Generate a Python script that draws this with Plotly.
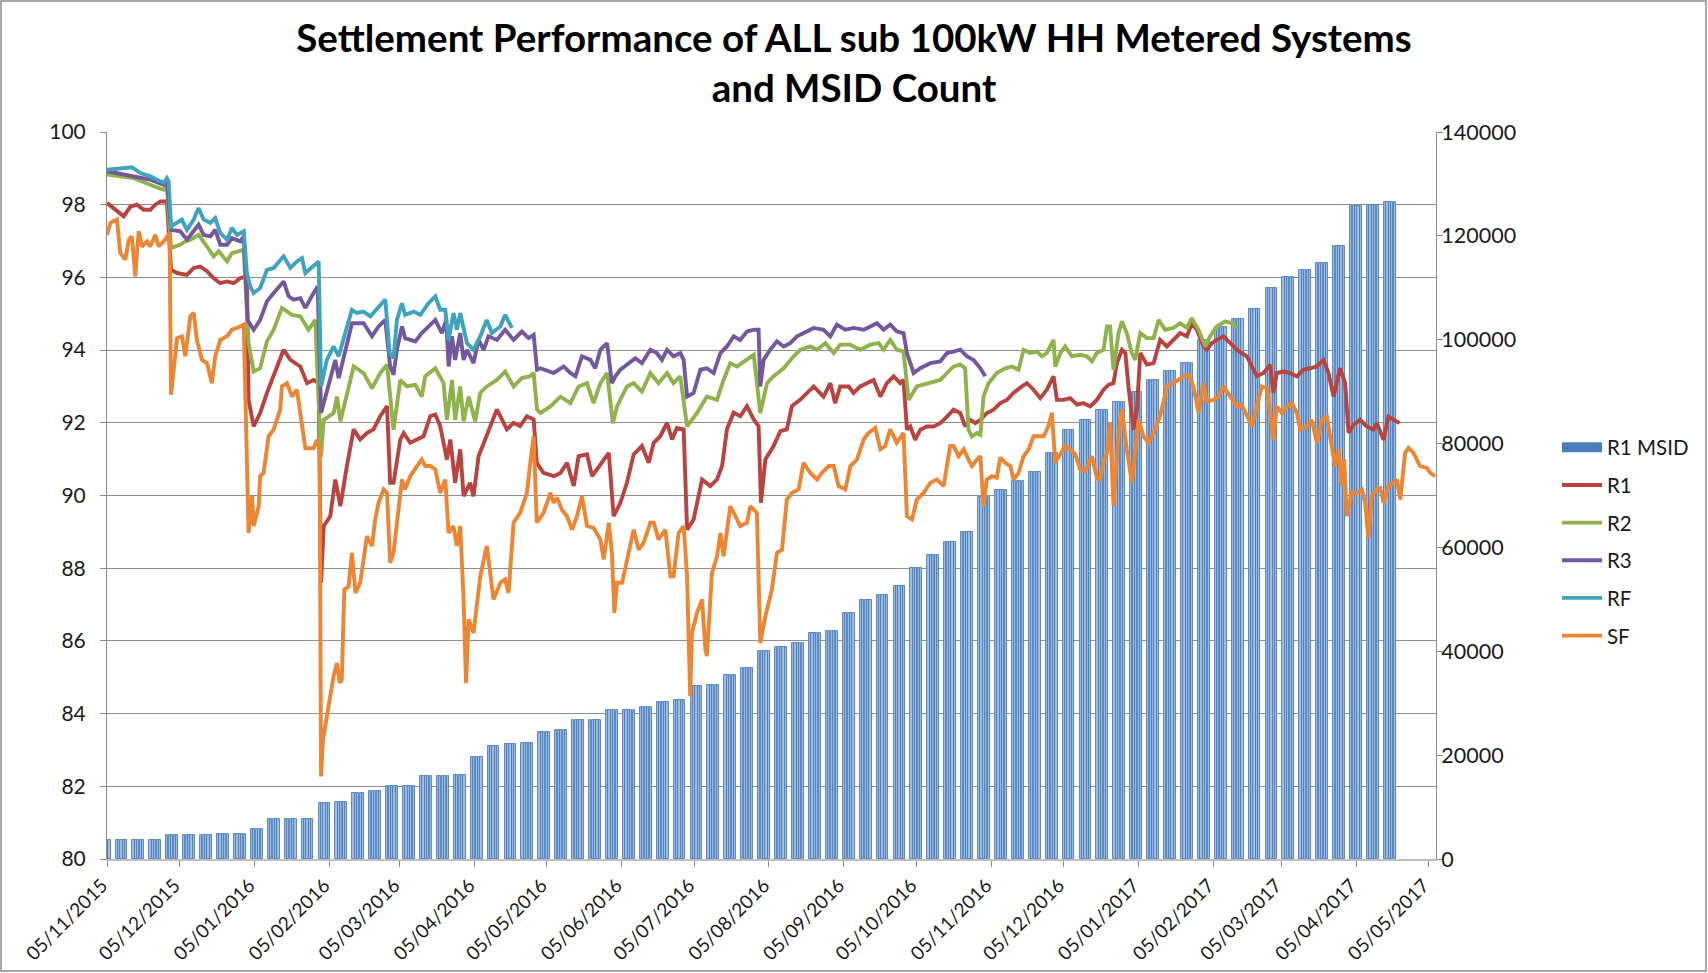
import pandas as pd
import plotly.graph_objects as go

# ---------------- data ----------------
START_DATE = "2015-11-05"          # day 0 of the series below (days since this date)
TITLE = "Settlement Performance of ALL sub 100kW HH Metered Systems<br>and MSID Count"

x_tick_dates = ["2015-11-05", "2015-12-05", "2016-01-05", "2016-02-05", "2016-03-05", "2016-04-05",
                "2016-05-05", "2016-06-05", "2016-07-05", "2016-08-05", "2016-09-05", "2016-10-05",
                "2016-11-05", "2016-12-05", "2017-01-05", "2017-02-05", "2017-03-05", "2017-04-05",
                "2017-05-05"]
x_tick_labels = ["05/11/2015", "05/12/2015", "05/01/2016", "05/02/2016", "05/03/2016", "05/04/2016",
                 "05/05/2016", "05/06/2016", "05/07/2016", "05/08/2016", "05/09/2016", "05/10/2016",
                 "05/11/2016", "05/12/2016", "05/01/2017", "05/02/2017", "05/03/2017", "05/04/2017",
                 "05/05/2017"]
left_ticks = [80, 82, 84, 86, 88, 90, 92, 94, 96, 98, 100]
right_ticks = [0, 20000, 40000, 60000, 80000, 100000, 120000, 140000]

# R1 MSID count: one value per week (weeks starting Monday 2015-11-02), shown on every working day
msid_week_start = "2015-11-02"
msid_first_day = "2015-11-05"
msid_last_day = "2017-04-21"
msid_weekly = [3700, 3700, 3700, 3700, 4600, 4600, 4600, 4800, 4800, 5800,
               7800, 7800, 7800, 10850, 10900, 12650, 13000, 14000, 14100, 16000,
               16000, 16100, 19600, 21700, 22200, 22300, 24500, 24800, 26800, 26800,
               28700, 28700, 29200, 30300, 30650, 33400, 33500, 35500, 36700, 40000,
               40800, 41600, 43500, 44000, 47400, 49800, 50800, 52500, 56000, 58500,
               61000, 63000, 69800, 71000, 72700, 74500, 78200, 82600, 84500, 86500,
               88000, 90000, 92300, 93900, 95500, 100000, 102500, 104000, 106000, 110000,
               112100, 113500, 114700, 118000, 125800, 126000, 126500]

# (days since START_DATE, percent)
r1_points = [(0,98.05),(2.8,97.91),(6.9,97.68),(9.7,97.95),(12.4,98.00),(15.2,97.86),(17.9,97.86),(20.0,98.00),
 (22.1,98.09),(24.8,98.09),(26.5,96.21),(29.0,96.12),(33.1,96.07),(35.9,96.26),(38.6,96.30),(41.4,96.17),
 (44.1,95.98),(46.9,95.84),(49.7,95.89),(52.4,95.84),(55.2,95.98),(57.9,96.03),(58.6,92.63),(60.7,91.90),
 (63.4,92.27),(66.2,92.82),(69.0,93.28),(73.1,94.01),(75.9,93.73),(80.0,93.55),(82.8,93.09),(85.5,93.18),
 (87.6,93.09),(88.6,87.60),(89.7,89.16),(92.4,89.43),(94.5,90.44),(96.6,89.71),(99.3,90.81),(102.1,91.82),
 (104.8,91.54),(107.6,91.72),(110.3,91.82),(113.1,92.18),(115.9,92.46),(117.2,90.35),(118.6,90.35),(121.4,91.54),
 (122.8,91.72),(125.5,91.45),(128.3,91.54),(131.0,91.63),(133.8,92.18),(135.9,92.23),(137.9,91.91),(140.7,90.99),
 (142.1,91.54),(144.1,90.35),(146.2,91.27),(147.6,89.98),(150.3,90.35),(151.7,89.98),(153.8,91.08),(157.2,91.63),
 (161.4,92.37),(165.5,91.82),(168.3,92.00),(171.0,91.91),(173.8,92.18),(176.6,92.09),(177.9,90.90),(180.7,90.62),
 (184.9,90.53),(187.7,90.62),(190.4,90.90),(193.2,90.26),(195.2,91.08),(198.7,91.13),(200.8,90.53),(204.2,90.85),
 (207.7,91.17),(209.7,89.43),(212.5,89.80),(215.2,90.35),(218.0,91.13),(221.4,91.36),(224.2,90.90),(226.3,91.45),
 (229.0,91.63),(231.8,92.00),(233.9,91.54),(235.9,91.86),(238.7,91.82),(240.1,89.06),(242.8,89.34),(246.3,90.44),
 (249.7,90.26),(252.5,90.44),(254.6,90.81),(256.6,91.82),(259.4,92.28),(262.1,92.18),(264.9,92.46),(267.7,92.09),
 (269.7,91.91),(270.7,89.80),(272.5,90.99),(275.9,91.36),(278.7,91.77),(281.4,91.82),(283.5,92.46),(287.0,92.64),
 (289.7,92.82),(292.5,93.00),(296.6,92.72),(299.4,93.09),(301.4,92.54),(303.5,93.00),(307.0,93.00),(309.0,92.82),
 (311.8,93.00),(314.5,93.09),(317.3,93.18),(320.1,92.72),(322.8,93.09),(325.6,93.28),(328.3,93.09),(329.7,93.18),
 (331.1,91.81),(332.5,91.90),(334.5,91.53),(336.6,91.81),(339.4,91.90),(342.1,91.90),(344.9,91.99),(347.7,92.17),
 (350.4,92.36),(353.2,92.27),(355.2,91.90),(357.3,92.08),(359.4,91.99),(361.5,92.08),(364.2,92.27),(367.0,92.36),
 (369.7,92.54),(372.5,92.63),(375.2,92.82),(378.7,93.00),(380.8,93.09),(383.5,92.91),(386.3,92.68),(389.0,92.91),
 (391.8,93.28),(393.2,92.63),(395.9,92.63),(398.7,92.68),(401.5,92.50),(404.2,92.54),(407.0,92.45),(409.7,92.63),
 (412.5,92.91),(414.6,93.05),(416.6,93.09),(418.0,93.64),(420.1,94.01),(421.5,93.92),(422.8,93.00),(424.9,91.81),
 (426.3,92.36),(427.7,93.92),(430.4,93.60),(433.2,93.64),(435.9,94.28),(438.7,94.10),(441.5,94.28),(444.2,94.47),
 (447.0,94.38),(449.0,94.74),(451.1,94.56),(453.9,94.10),(455.2,94.01),(457.3,94.19),(459.4,94.28),(462.1,94.38),
 (464.9,94.19),(467.7,94.01),(469.7,93.92),(471.8,93.83),(473.9,93.55),(475.9,93.28),(478.7,93.37),(481.5,93.60),
 (482.8,92.82),(484.2,93.37),(487.0,93.41),(489.7,93.37),(492.5,93.28),(495.2,93.46),(498.0,93.50),(500.8,93.55),
 (503.5,93.73),(505.6,93.37),(507.7,92.72),(510.4,93.50),(512.5,93.09),(513.9,91.72),(515.9,91.94),(518.7,92.08),
 (521.4,91.90),(524.2,91.81),(525.6,91.99),(528.4,91.53),(530.4,92.17),(532.5,92.08),(535.0,91.99)]

r2_points = [(0,98.83),(11.0,98.73),(17.9,98.55),(23.4,98.41),(24.8,98.50),(26.5,96.81),(30.3,96.90),(32.4,96.99),
 (34.5,97.04),(37.9,97.17),(41.4,96.85),(44.1,96.58),(46.2,96.72),(49.7,96.44),(51.7,96.67),(55.2,96.72),
 (56.6,96.76),(58.6,94.19),(60.7,93.41),(63.4,93.50),(66.2,94.24),(69.0,94.56),(72.4,95.16),(76.6,94.97),
 (80.0,94.93),(83.4,94.56),(86.2,94.83),(88.6,91.07),(89.7,92.08),(93.8,92.27),(95.2,92.72),(96.6,92.04),
 (100.0,93.00),(102.1,93.55),(106.2,93.37),(109.7,92.95),(113.1,93.37),(115.9,93.60),(117.5,92.54),(118.6,91.81),
 (121.4,93.18),(124.1,93.00),(127.6,93.05),(130.3,92.72),(131.7,93.28),(135.9,93.50),(139.3,93.09),(140.7,92.08),
 (142.8,93.18),(144.1,92.08),(146.2,93.00),(147.6,92.04),(149.7,92.72),(152.4,92.04),(154.5,92.82),(157.2,93.00),
 (161.4,93.18),(164.8,93.41),(168.3,93.00),(171.7,93.23),(175.2,93.28),(176.6,93.37),(178.0,92.36),(179.4,92.27),
 (183.5,92.45),(187.7,92.72),(191.8,92.54),(195.2,93.00),(198.7,93.09),(201.4,92.54),(204.2,93.09),(207.0,93.37),
 (209.4,91.99),(211.1,92.45),(215.2,93.00),(218.0,93.09),(221.4,92.86),(224.9,93.37),(228.3,93.09),(231.8,93.37),
 (234.5,93.09),(237.3,93.28),(240.1,91.90),(244.2,92.27),(248.3,92.72),(252.5,92.63),(255.2,93.18),(258.0,93.64),
 (260.8,93.55),(264.9,93.73),(267.7,93.87),(270.4,92.27),(273.2,93.09),(275.9,93.28),(280.1,93.50),(284.2,93.83),
 (287.0,94.01),(291.1,94.10),(293.9,94.01),(297.3,94.19),(300.8,93.92),(303.5,94.15),(307.7,94.15),(311.8,94.01),
 (315.9,94.15),(319.4,94.19),(321.4,94.01),(324.2,94.28),(327.0,94.01),(329.7,93.96),(331.8,92.63),(335.2,93.00),
 (339.4,93.09),(344.9,93.18),(347.7,93.37),(350.4,93.55),(353.2,93.60),(355.2,93.50),(356.6,91.81),(358.0,91.62),
 (360.1,91.72),(361.5,91.67),(362.8,92.72),(364.9,93.09),(368.3,93.37),(371.8,93.50),(374.6,93.55),(377.3,93.46),
 (379.4,94.01),(382.1,93.92),(384.9,93.96),(387.0,93.83),(389.0,93.92),(391.8,94.28),(392.5,93.55),(394.6,93.92),
 (396.6,94.10),(399.4,93.83),(402.8,93.87),(405.6,93.83),(407.7,93.69),(409.7,93.92),(412.5,94.01),(413.9,94.65),
 (415.2,94.65),(416.6,93.46),(418.7,94.47),(420.1,94.79),(422.1,94.47),(424.2,93.92),(425.6,93.73),(427.7,94.47),
 (430.4,94.33),(433.2,94.33),(435.3,94.83),(438.0,94.56),(441.5,94.61),(444.2,94.74),(447.0,94.61),(449.0,94.88),
 (451.8,94.56),(454.6,94.10),(456.6,94.38),(459.4,94.65),(462.8,94.79),(465.6,94.74),(467.7,94.61)]

r3_points = [(0,98.92),(11.0,98.78),(17.9,98.69),(23.4,98.55),(24.8,98.64),(26.5,97.31),(30.3,97.27),(33.1,97.04),
 (37.9,97.45),(40.0,97.17),(42.8,97.13),(44.8,97.31),(46.9,96.90),(49.7,96.90),(51.7,97.08),(55.2,96.99),
 (56.6,97.13),(58.2,94.83),(60.7,94.56),(63.4,94.83),(66.2,95.34),(69.0,95.57),(73.1,95.89),(75.2,95.48),
 (77.2,95.39),(80.0,95.43),(82.1,95.16),(85.5,95.57),(87.2,95.75),(88.6,92.27),(92.4,93.18),(94.5,93.73),
 (95.9,93.23),(98.6,93.92),(101.4,94.74),(106.2,94.74),(109.7,94.38),(112.4,94.65),(115.2,94.83),(117.2,93.55),
 (118.6,93.32),(120.0,94.01),(122.1,94.65),(123.4,94.33),(127.6,94.24),(130.3,94.47),(133.1,94.65),(135.9,94.83),
 (138.6,94.47),(140.4,94.83),(141.4,93.55),(142.8,94.38),(144.1,93.73),(146.2,94.47),(147.6,93.73),(149.0,94.01),
 (151.7,93.64),(153.8,94.28),(155.9,94.01),(157.9,94.38),(161.4,94.28),(164.8,94.56),(168.3,94.28),(171.7,94.51),
 (174.5,94.33),(176.6,94.42),(178.0,93.46),(179.4,93.50),(184.9,93.37),(189.0,93.55),(191.8,93.37),(193.9,93.28),
 (196.6,93.83),(200.1,93.73),(202.1,93.50),(204.2,94.01),(207.0,94.19),(209.0,93.09),(210.4,93.28),(212.5,93.46),
 (218.7,93.78),(221.4,93.64),(224.9,94.01),(227.6,93.92),(229.7,93.73),(231.8,94.01),(234.5,93.83),(237.3,93.92),
 (238.7,93.73),(240.1,92.72),(242.8,92.82),(245.6,93.46),(248.3,93.50),(251.1,93.37),(253.9,93.92),(256.6,94.10),
 (259.4,94.38),(262.1,94.28),(264.9,94.51),(267.7,94.56),(269.7,94.56),(270.4,93.00),(271.8,93.73),(274.5,94.01),
 (277.3,94.24),(280.1,94.10),(282.8,94.19),(285.6,94.38),(289.7,94.51),(292.5,94.61),(296.6,94.56),(299.4,94.38),
 (302.1,94.70),(305.6,94.56),(309.0,94.61),(313.2,94.56),(316.0,94.65),(318.7,94.74),(321.4,94.56),(324.2,94.70),
 (327.0,94.51),(329.7,94.47),(331.1,93.92),(333.9,93.37),(336.6,93.50),(340.8,93.64),(344.9,93.69),(347.7,93.92),
 (350.4,93.96),(353.2,94.01),(355.9,93.83),(358.7,93.73),(361.5,93.50),(363.5,93.28)]

rf_points = [(0,98.96),(5.5,99.01),(10.3,99.03),(13.8,98.87),(17.9,98.78),(23.4,98.60),(24.8,98.73),(25.5,98.64),
 (26.5,97.40),(31.0,97.59),(33.1,97.31),(35.9,97.59),(37.9,97.91),(40.0,97.59),(42.8,97.50),(44.8,97.63),
 (46.9,97.22),(49.7,97.04),(51.7,97.36),(53.8,97.17),(56.6,97.27),(57.9,96.12),(59.3,95.75),(60.7,95.57),
 (63.4,95.71),(66.2,96.21),(69.0,96.26),(73.1,96.58),(75.9,96.26),(78.6,96.44),(80.7,96.53),(82.1,96.12),
 (85.5,96.30),(87.6,96.44),(88.6,93.00),(91.0,93.73),(93.8,94.10),(95.9,93.83),(98.6,94.47),(101.4,95.11),
 (103.4,95.02),(106.2,95.06),(109.0,94.93),(112.4,95.20),(115.2,95.39),(117.0,93.92),(118.6,93.78),(120.0,94.83),
 (122.1,95.29),(123.4,94.97),(126.9,95.06),(129.7,94.97),(133.1,95.29),(135.9,95.48),(137.9,95.11),(140.0,95.11),
 (141.4,94.28),(143.4,95.02),(144.8,94.56),(146.2,95.02),(149.0,94.19),(151.7,94.01),(154.5,94.38),(157.2,94.83),
 (159.3,94.47),(162.8,94.65),(164.8,94.97),(167.6,94.61)]

sf_points = [(0,97.17),(1.4,97.50),(4.1,97.59),(5.5,96.67),(7.6,96.49),(9.0,97.04),(10.3,97.13),(11.7,96.03),
 (13.1,97.27),(14.5,96.85),(16.6,96.99),(17.9,96.85),(20.0,97.17),(21.4,96.85),(24.1,97.04),(25.9,97.22),
 (26.5,92.77),(27.6,93.37),(29.0,94.33),(31.0,94.38),(32.4,93.83),(34.5,94.93),(35.9,95.02),(37.2,94.28),
 (39.3,93.73),(41.4,93.64),(43.4,93.09),(44.8,93.83),(46.9,94.28),(49.7,94.38),(51.7,94.56),(53.8,94.61),
 (56.6,94.70),(58.6,88.97),(60.0,89.98),(60.7,89.16),(62.8,89.71),(63.4,90.53),(64.8,90.62),(66.9,91.63),
 (69.0,91.82),(71.7,92.37),(72.4,93.00),(74.5,93.09),(76.6,92.72),(78.6,92.91),(80.0,92.27),(82.1,91.30),
 (85.5,91.30),(86.9,91.53),(88.0,91.26),(88.6,82.27),(89.4,83.28),(91.0,83.93),(93.8,85.03),(95.2,85.39),
 (96.3,84.84),(97.2,84.94),(98.2,87.41),(100.0,87.50),(101.4,88.42),(102.8,87.32),(104.8,87.60),(106.2,88.24),
 (107.6,88.88),(109.7,88.61),(111.0,89.34),(112.4,89.80),(114.5,90.17),(115.9,90.07),(117.2,88.15),(118.6,88.42),
 (120.7,89.61),(122.1,90.44),(123.4,90.17),(125.5,90.53),(128.3,90.81),(130.3,90.99),(131.7,90.81),(133.8,90.81),
 (135.9,90.72),(137.9,90.07),(140.0,90.44),(141.4,88.97),(143.4,89.16),(144.8,88.61),(146.2,89.16),(147.6,87.14),
 (148.6,84.84),(149.7,86.59),(151.7,86.22),(154.5,87.78),(157.2,88.61),(160.0,87.14),(162.8,87.60),(164.8,87.69),
 (166.2,87.32),(168.3,89.25),(171.0,89.52),(173.8,90.07),(175.2,90.90),(176.6,91.63),(177.9,89.25),(180.7,89.52),
 (183.5,90.07),(184.9,89.80),(186.3,89.94),(188.3,89.61),(190.4,89.43),(192.5,89.06),(194.5,89.43),(196.6,89.98),
 (198.7,89.16),(201.4,89.11),(204.2,88.79),(205.6,88.24),(207.7,89.25),(209.0,88.42),(210.0,86.77),(211.1,87.60),
 (213.2,87.60),(215.2,88.24),(218.0,89.06),(220.1,88.51),(222.1,88.70),(224.9,89.25),(226.3,89.25),(228.3,88.79),
 (231.1,89.06),(233.2,87.78),(234.5,87.78),(236.6,88.97),(238.7,89.16),(240.1,87.78),(241.4,84.48),(242.1,86.22),
 (244.2,86.77),(246.3,87.14),(247.7,85.76),(248.3,85.58),(250.4,87.87),(252.5,88.33),(253.9,88.97),(255.2,88.33),
 (258.0,89.71),(260.1,89.43),(262.1,89.16),(264.9,89.25),(266.3,89.71),(269.0,89.52),(270.4,85.94),(272.5,86.68),
 (275.2,87.41),(277.3,88.42),(279.4,88.51),(281.4,89.89),(283.5,90.07),(286.3,90.17),(288.3,90.90),(291.1,90.62),
 (293.9,90.44),(295.9,90.62),(298.7,90.81),(300.8,90.81),(302.8,90.26),(305.6,90.17),(307.7,90.81),(310.4,90.99),
 (313.2,91.54),(315.2,91.72),(318.0,91.86),(320.1,91.27),(322.1,91.36),(324.2,91.82),(326.9,91.45),(329.7,91.72),
 (331.1,89.43),(333.2,89.34),(335.2,89.89),(338.0,90.07),(340.8,90.35),(343.5,90.44),(346.3,90.26),(349.0,91.36),
 (350.4,91.36),(352.5,91.08),(354.6,91.27),(356.6,90.99),(358.0,90.81),(360.1,90.99),(361.5,91.08),(362.8,89.71),
 (364.2,90.44),(366.3,90.53),(368.3,90.49),(369.7,91.04),(371.8,90.90),(373.9,90.81),(375.2,90.44),(377.3,90.62),
 (379.4,91.08),(381.5,91.27),(383.5,91.63),(385.6,91.63),(387.7,91.63),(389.7,91.91),(391.1,92.28),(392.5,90.90),
 (394.6,91.13),(396.6,91.36),(398.7,91.27),(400.8,91.13),(402.8,90.72),(404.9,90.67),(407.7,91.08),(409.7,90.49),
 (411.1,90.44),(412.5,90.94),(413.9,91.17),(415.2,92.00),(416.6,89.71),(418.7,91.72),(420.1,92.37),(422.1,91.27),
 (424.2,90.35),(425.6,91.36),(427.0,92.09),(429.0,91.63),(431.1,91.45),(433.2,91.72),(435.9,92.18),(438.7,93.00),
 (441.5,93.09),(443.5,93.18),(445.6,93.28),(447.7,93.32),(449.7,93.00),(451.8,92.27),(453.9,93.09),(455.2,92.59),
 (458.0,92.63),(460.1,92.72),(462.1,93.00),(464.9,92.72),(467.7,92.45),(469.7,92.50),(471.8,92.17),(473.9,91.90),
 (475.9,92.45),(478.0,93.00),(480.1,92.95),(482.8,91.53),(484.2,92.45),(486.3,92.27),(488.3,92.45),(490.4,92.54),
 (492.5,92.27),(493.9,91.81),(496.6,91.90),(498.7,92.08),(500.8,91.44),(502.8,92.08),(504.9,92.17),(507.0,91.35),
 (508.3,90.81),(509.7,91.27),(511.1,90.26),(512.1,91.00),(513.2,89.43),(515.2,90.07),(517.3,90.07),(519.4,90.17),
 (520.8,89.80),(522.1,88.83),(523.5,89.98),(525.6,90.17),(527.0,90.21),(528.4,89.80),(530.4,90.26),(532.5,90.35),
 (533.9,90.44),(535.3,89.89),(537.3,91.17),(538.7,91.31),(540.8,91.17),(543.5,90.81),(546.3,90.76),(547.7,90.62),
 (549.7,90.53)]

series_names = ["R1", "R2", "R3", "RF", "SF"]
series_points = [r1_points, r2_points, r3_points, rf_points, sf_points]

# ---------------- styling ----------------
line_colors = {"R1": "#b8433f", "R2": "#90b24c", "R3": "#74589e", "RF": "#3fa3be", "SF": "#ec8634"}
bar_fill = "#a3bde0"
bar_edge = "#4a7ebb"
FONT = "Lato, 'Open Sans', sans-serif"

start = pd.Timestamp(START_DATE)


def to_dates(points):
    return [start + pd.Timedelta(days=d) for d, _ in points]


fig = go.Figure()

bar_days = pd.bdate_range(msid_first_day, msid_last_day)
week_index = (bar_days - pd.Timestamp(msid_week_start)).days // 7
bar_values = [msid_weekly[i] for i in week_index]

fig.add_trace(go.Bar(x=bar_days, y=bar_values, name="R1 MSID", yaxis="y",
                     marker=dict(color=bar_fill, line=dict(width=0.9, color=bar_edge)),
                     width=0.9 * 86400000, showlegend=False, legendgroup="msid"))
# legend key for the bars (wide blue block as in the original)
fig.add_trace(go.Scatter(x=[None], y=[None], mode="lines", name="R1 MSID", yaxis="y",
                         line=dict(color="#4a7ebb", width=11), legendgroup="msid"))

for name, pts in zip(series_names, series_points):
    fig.add_trace(go.Scatter(x=to_dates(pts), y=[v for _, v in pts], mode="lines", name=name,
                             yaxis="y2", legendgroup=name,
                             line=dict(color=line_colors[name], width=3.9)))

W, H = 1708, 973
L, R, T, B = 107, 272, 132, 114
pw, ph = W - L - R, H - T - B

fig.update_layout(
    width=W, height=H,
    margin=dict(l=L, r=R, t=T, b=B, autoexpand=False),
    paper_bgcolor="white", plot_bgcolor="white",
    font=dict(family=FONT, color="#1a1a1a", size=21),
    title=dict(text=TITLE, x=0.5, xanchor="center", xref="container",
               y=1 - 52 / H, yanchor="middle",
               font=dict(family=FONT, size=38.5, color="#000000", weight="bold")),
    showlegend=True,
    legend=dict(x=(1557 - L) / pw, xanchor="left", y=(859 - 427.5) / ph,
                yanchor="top", font=dict(size=20.5, family=FONT, color="#1a1a1a"),
                bgcolor="rgba(0,0,0,0)", tracegroupgap=8, itemwidth=40),
    xaxis=dict(type="date", automargin=False,
               range=[start, start + pd.Timedelta(days=550.1)],
               tickvals=x_tick_dates, ticktext=x_tick_labels, tickangle=-45,
               ticks="outside", ticklen=6, tickcolor="#8a8a8a", ticklabelshift=-5,
               showline=True, linecolor="#bfbfbf", linewidth=2,
               showgrid=False, zeroline=False, tickfont=dict(size=19)),
    yaxis=dict(range=[0, 140000], tickvals=right_ticks, ticktext=[str(v) for v in right_ticks],
               side="right", showgrid=False, zeroline=False, automargin=False,
               showline=True, linecolor="#8a8a8a", linewidth=1,
               ticks="outside", ticklen=6, tickcolor="#8a8a8a", ticklabelstandoff=-6,
               tickfont=dict(size=21.5)),
    yaxis2=dict(range=[80, 100], tickvals=left_ticks, ticktext=[str(v) for v in left_ticks],
                overlaying="y", side="left", anchor="x", automargin=False,
                showgrid=True, gridcolor="#8e8e8e", gridwidth=1, zeroline=False,
                showline=True, linecolor="#8a8a8a", linewidth=1,
                ticks="outside", ticklen=6, tickcolor="#8a8a8a", ticklabelstandoff=10,
                tickfont=dict(size=21)),
    bargap=0,
)

# outer frame around the whole chart
fig.add_shape(type="rect", xref="paper", yref="paper",
              x0=(1 - L) / pw, x1=(W - 2 - L) / pw, y0=(T + ph - (H - 2)) / ph, y1=(T + ph - 1) / ph,
              line=dict(color="#8a8a8a", width=1.5), fillcolor="rgba(0,0,0,0)", layer="below")

# remove the browser's default page margin so the figure sits at the window's top-left corner
fig.write_html("out.html", config={"displayModeBar": False},
               post_script="document.body.style.margin='0';")
